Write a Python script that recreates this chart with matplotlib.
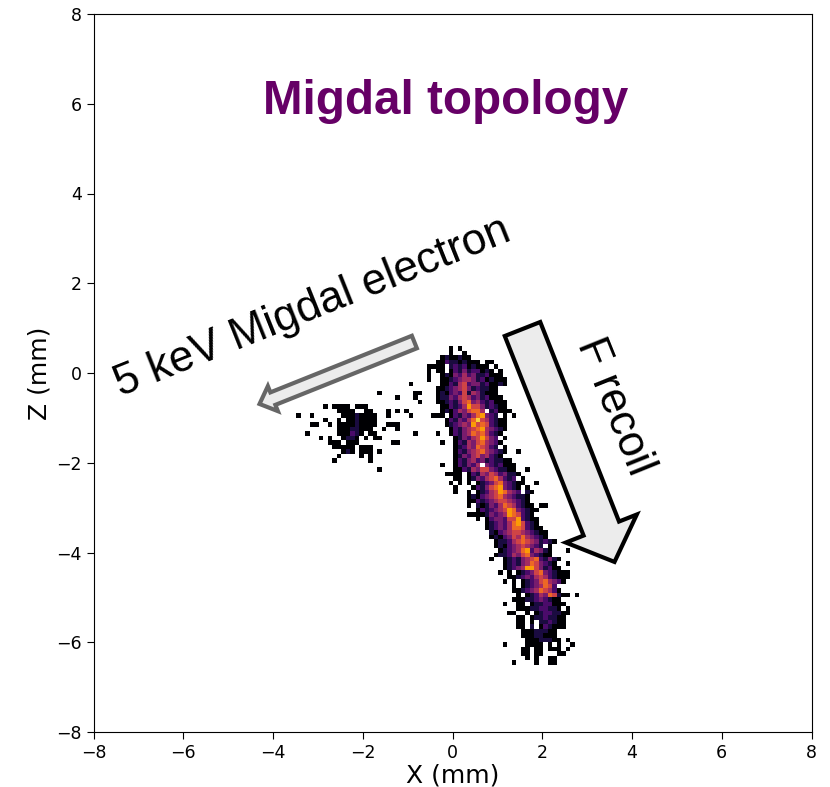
import numpy as np
import matplotlib
matplotlib.use("Agg")
import matplotlib.pyplot as plt
from matplotlib.patches import FancyArrow

# pixel readings of the track, one string per Z bin (top to bottom), digit = intensity level
track_first_bin_x = -8
track_first_bin_z = 5
track_rows = [
    "       1 1",
    "       1  1",
    "     1211211",
    "    1132212111 11",
    "  1111 232312111 1",
    "  1 11 1324233121 1",
    "  1  12143534223111",
    "  1  112345542312111",
    "     11325634423112",
    "    11234564232211",
    "    12134362542111",
    "    122435653423111",
    "    1123246745323111",
    "     113235866423211",
    "     1213546775 23111",
    "   111 13243578432 1",
    "      13243579653211",
    "      12345486763211",
    "       1324567854321",
    "       132457675321",
    "        1243568643 1",
    "        13254675431",
    "        1235476532 1",
    "        132456754321",
    "        12435645321",
    "        1324534232211",
    "        132435 4323111",
    "        11325466432211",
    "       111 132546534221",
    "        11 12435675323 1",
    "         1 1 12346743211",
    "        1   13246784321 1",
    "           1 1235687543 21",
    "           12134567543221",
    "           11323456654321",
    "           1 2124357653211 1",
    "             13234568743211",
    "           111124345876321",
    "             1 134436683211",
    "               123435786321",
    "               1234357763211",
    "                2134566543211",
    "                1213465754321",
    "                 12235676542321",
    "                 12134565432 1",
    "                  123457835421",
    "                 1223546743211",
    "                1  1232456732421",
    "                   123245764321",
    "                   1234588642311",
    "                  1 1 123467432111",
    "                    11234356532111",
    "                   1 1 1234675431",
    "                     1 12345763",
    "                     11234576531",
    "                      1 1235476211 1",
    "                     11122343211",
    "                      11 12233111",
    "                      1112233221 1",
    "                    11  1 12332211",
    "                      11 12232211",
    "                      11 1 223211",
    "                      11 2 132111",
    "                       11122211",
    "                       11122111",
    "                        11122211 1",
    "                        1111 1 1  1",
    "                       11 11 111 1",
    "                       11 11   11",
    "                          1  11",
    "                          1  11",
]

# small blob left of the track
blob_first_bin_x = -29
blob_first_bin_z = -8
blob_rows = [
    "1 1111 111",
    "   1111  11",
    "    11121111",
    "1  1 1121111",
    " 1 111121111",
    "   11122111",
    "   111321 11",
    " 1  1221 1  1",
    " 111 111",
    "  11111 111",
    "    121 111",
    "   1    1 1",
]

# single isolated bins (x bin, z bin)
stray_x = [-35, -32, -32, -31, -33, -30, -17, -13, -9, -8, -10, -9, -8, -15, -13, -11, -15, -10,
           -15, -14, -13, -16, -13, -18, -9, -4, -3, -14, -13, -17, -27, -19, -17,
           11, 11, 13, 14, 16, 18, 20, -3, -2, -1, 0, 5, 11, 13, 16, 25, 25, 11]
stray_z = [-10, -10, -12, -12, -14, -15, -5, -6, -5, -5, -3, -6, -7, -9, -9, -9, -10, -10,
           -12, -12, -12, -13, -13, -15, -14, -14, -16, -16, -16, -18, -20, -20, -22,
           -3, -7, -10, -18, -22, -25, -30, -21, -23, -25, -27, -33, -61, -65, -64, -40, -43, -52]

tick_vals = [-8, -6, -4, -2, 0, 2, 4, 6, 8]

hist = np.full((160, 160), np.nan)


def fill_rows(rows, first_x, first_z):
    for n, row in enumerate(rows):
        for k, ch in enumerate(row):
            if ch != " ":
                hist[first_z - n + 80, first_x + k + 80] = int(ch)


fill_rows(track_rows, track_first_bin_x, track_first_bin_z)
fill_rows(blob_rows, blob_first_bin_x, blob_first_bin_z)
for bx, bz in zip(stray_x, stray_z):
    hist[bz + 80, bx + 80] = 1

fig = plt.figure(figsize=(8.3, 7.87), dpi=100)
ax = fig.add_axes([93.5 / 830, 1 - 732 / 787, 718 / 830, 718 / 787])

cmap = plt.get_cmap("inferno").copy()
cmap.set_bad("white")
ax.imshow(hist, origin="lower", extent=[-8, 8, -8, 8], cmap=cmap, vmin=1, vmax=10,
          interpolation="nearest", aspect="auto")

ax.set_xlim(-8, 8)
ax.set_ylim(-8, 8)
ax.set_xticks(tick_vals)
ax.set_yticks(tick_vals)
ax.tick_params(labelsize=12.5, length=5)
ax.set_xlabel("X (mm)", fontsize=18, labelpad=1)
ax.set_ylabel("Z (mm)", fontsize=18, labelpad=3)

# arrows
ax.add_patch(FancyArrow(1.56, 0.98, 2.05, -5.19, width=0.85, head_width=1.7, head_length=0.8,
                        length_includes_head=True, fc="#ececec", ec="black", lw=3, zorder=3))
ax.add_patch(FancyArrow(-0.85, 0.69, -3.45, -1.38, width=0.3, head_width=0.6, head_length=0.32,
                        length_includes_head=True, fc="#ececec", ec="#666666", lw=3, zorder=3))

# labels on the plot
sans = "Liberation Sans"
ax.text(-0.15, 6.06, "Migdal topology", color="#660066", fontsize=34.3, fontweight="bold",
        family=sans, ha="center", va="center")
ax.text(-3.13, 1.45, "5 keV Migdal electron", color="black", fontsize=31.6, family=sans,
        rotation=21.8, rotation_mode="anchor", ha="center", va="center")
ax.text(3.61, -0.75, "F recoil", color="black", fontsize=31.6, family=sans,
        rotation=-68, rotation_mode="anchor", ha="center", va="center")

fig.savefig("out.png", dpi=100)
